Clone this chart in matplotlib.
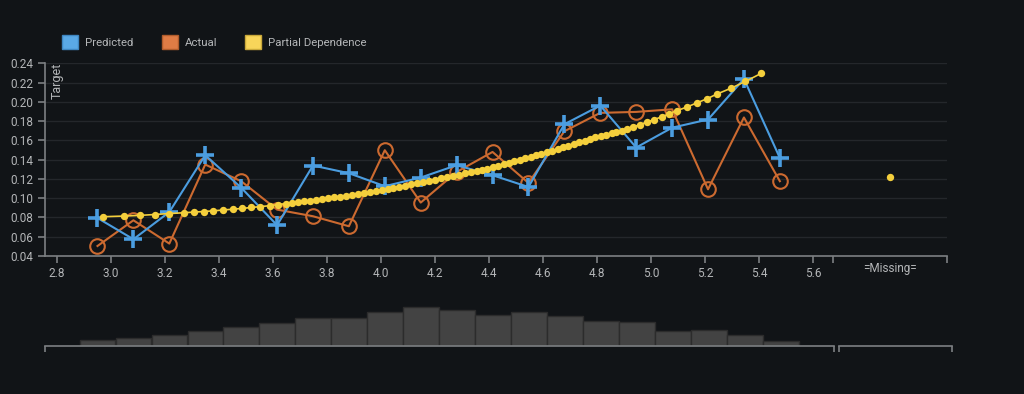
import matplotlib.pyplot as plt
from matplotlib.patches import Patch

plt.rcParams["font.family"] = ["Roboto", "DejaVu Sans"]

# bin centres shared by predicted / actual / histogram
bin_x = [2.950, 3.083, 3.216, 3.349, 3.482, 3.615, 3.748, 3.881, 4.014, 4.147,
         4.280, 4.413, 4.546, 4.679, 4.812, 4.945, 5.078, 5.211, 5.344, 5.477]
predicted = [0.0795, 0.0574, 0.0857, 0.1447, 0.1110, 0.0720, 0.1340, 0.1260, 0.1125, 0.1215,
             0.1343, 0.1239, 0.1117, 0.1769, 0.1963, 0.1527, 0.1733, 0.1818, 0.2240, 0.1419]
actual = [0.0504, 0.0771, 0.0529, 0.1350, 0.1177, 0.0882, 0.0813, 0.0709, 0.1499, 0.0955,
          0.1273, 0.1481, 0.1159, 0.1696, 0.1887, 0.1897, 0.1924, 0.1093, 0.1839, 0.1177]
counts = [12, 16, 23, 31, 39, 46, 57, 57, 69, 78, 73, 62, 69, 61, 51, 48, 30, 32, 23, 10]

pd_x = [2.969, 3.049, 3.106, 3.163, 3.215, 3.269, 3.306, 3.343, 3.379, 3.416,
        3.451, 3.485, 3.520, 3.553, 3.589, 3.620, 3.647, 3.672, 3.694, 3.716,
        3.738, 3.760, 3.782, 3.804, 3.826, 3.848, 3.870, 3.892, 3.914, 3.936,
        3.958, 3.980, 4.002, 4.024, 4.046, 4.068, 4.090, 4.112, 4.134, 4.156,
        4.178, 4.200, 4.222, 4.244, 4.266, 4.288, 4.310, 4.332, 4.354, 4.374,
        4.394, 4.414, 4.434, 4.454, 4.474, 4.494, 4.514, 4.534, 4.554, 4.574,
        4.594, 4.614, 4.634, 4.654, 4.674, 4.694, 4.714, 4.734, 4.754, 4.774,
        4.794, 4.814, 4.834, 4.854, 4.872, 4.891, 4.910, 4.934, 4.959, 4.984,
        5.011, 5.040, 5.068, 5.097, 5.134, 5.169, 5.206, 5.243, 5.296, 5.349,
        5.407]
pd_y = [0.0808, 0.0815, 0.0822, 0.0831, 0.0841, 0.0849, 0.0856, 0.0862, 0.0869, 0.0878,
        0.0886, 0.0894, 0.0904, 0.0913, 0.0923, 0.0934, 0.0945, 0.0953, 0.0961, 0.0968,
        0.0976, 0.0983, 0.0991, 0.0999, 0.1008, 0.1017, 0.1026, 0.1035, 0.1044, 0.1053,
        0.1062, 0.1071, 0.1081, 0.1093, 0.1106, 0.1118, 0.1131, 0.1143, 0.1156, 0.1169,
        0.1181, 0.1194, 0.1207, 0.1220, 0.1232, 0.1245, 0.1258, 0.1270, 0.1283, 0.1295,
        0.1306, 0.1321, 0.1336, 0.1352, 0.1367, 0.1383, 0.1398, 0.1414, 0.1429, 0.1445,
        0.1460, 0.1477, 0.1494, 0.1512, 0.1529, 0.1546, 0.1563, 0.1580, 0.1598, 0.1615,
        0.1632, 0.1648, 0.1662, 0.1676, 0.1689, 0.1699, 0.1717, 0.1741, 0.1766, 0.1790,
        0.1818, 0.1845, 0.1880, 0.1911, 0.1949, 0.1990, 0.2032, 0.2081, 0.2143, 0.2213,
        0.2296]
missing_x = 5.885
missing_pd = 0.1218

x_ticks = [2.8, 3.0, 3.2, 3.4, 3.6, 3.8, 4.0, 4.2, 4.4, 4.6, 4.8, 5.0, 5.2, 5.4, 5.6]
y_ticks = [0.04, 0.06, 0.08, 0.10, 0.12, 0.14, 0.16, 0.18, 0.20, 0.22, 0.24]

BG = "#111417"
AXIS = "#7c7f82"
TEXT = "#b4b6b8"
GRID = "#24272b"
BLUE = "#4b9de0"
ORANGE = "#cc6a30"
YELLOW = "#f4cf3c"

x_left, x_split, x_right = 2.7556, 5.674, 6.096

fig = plt.figure(figsize=(10.24, 3.94), dpi=100, facecolor=BG)
ax = fig.add_axes([45 / 1024, 1 - 256 / 394, 902 / 1024, 193 / 394], facecolor=BG)

ax.plot(bin_x, predicted, color=BLUE, lw=1.5, marker="+", ms=13, mew=2.6, zorder=3)
ax.plot(bin_x, actual, color=ORANGE, lw=1.5, marker="o", ms=10.5, mfc="none", mew=1.5, zorder=2)
ax.plot(pd_x, pd_y, color=YELLOW, lw=1.2, marker="o", ms=5.3, mew=0, zorder=4)
ax.plot([missing_x], [missing_pd], color=YELLOW, marker="o", ms=5.3, mew=0, ls="none")

ax.set_xlim(x_left, x_right)
ax.set_ylim(0.04, 0.2405)
ax.set_yticks(y_ticks)
ax.set_yticklabels([f"{v:.2f}" for v in y_ticks])
ax.set_xticks(x_ticks + [x_split, x_right])
ax.set_xticklabels([f"{v:.1f}" for v in x_ticks] + ["", ""])
ax.grid(axis="y", color=GRID, lw=1)
ax.set_axisbelow(True)
for s in ["top", "right"]:
    ax.spines[s].set_visible(False)
for s in ["left", "bottom"]:
    ax.spines[s].set_color(AXIS)
    ax.spines[s].set_linewidth(1.2)
ax.tick_params(colors=AXIS, labelcolor=TEXT, labelsize=8.5, length=5, width=1.2)
ax.tick_params(axis="x", pad=3)
ax.text(missing_x, -0.065, "=Missing=", transform=ax.get_xaxis_transform(),
        ha="center", va="center", color=TEXT, fontsize=8.5)
ax.text(0.006, 1.0, "Target", transform=ax.transAxes, rotation=90,
        ha="left", va="top", color=TEXT, fontsize=9)

# histogram underneath
hx = fig.add_axes([45 / 1024, 1 - 346 / 394, 789 / 1024, 45 / 394], facecolor="none")
hx.bar(bin_x, counts, width=0.1326, color="#434343", edgecolor="#2c2c2c", lw=1)
hx.set_xlim(x_left, x_split)
hx.set_ylim(0, 90)
hm = fig.add_axes([839 / 1024, 1 - 346 / 394, 113 / 1024, 45 / 394], facecolor="none")
hm.set_xlim(0, 1)
hm.set_ylim(0, 90)
for h in (hx, hm):
    for s in ["top", "right", "left"]:
        h.spines[s].set_visible(False)
    h.spines["bottom"].set_color(AXIS)
    h.spines["bottom"].set_linewidth(1.2)
    h.set_yticks([])
    h.set_xticks(h.get_xlim())
    h.set_xticklabels(["", ""])
    h.tick_params(axis="x", colors=AXIS, length=4, width=1.2)

handles = [Patch(facecolor="#5aa9e6", edgecolor="#3f86c0"),
           Patch(facecolor="#e07c45", edgecolor="#b05c2c"),
           Patch(facecolor="#f8d55a", edgecolor="#c9a83a")]
fig.legend(handles, ["Predicted", "Actual", "Partial Dependence"], loc="center left",
           bbox_to_anchor=(62 / 1024, 1 - 42 / 394), ncol=3, frameon=False,
           fontsize=8.2, labelcolor=TEXT, handlelength=1.4, handleheight=1.4,
           handletextpad=0.6, columnspacing=2.5, borderpad=0, borderaxespad=0)

fig.savefig("out.png", dpi=100, facecolor=BG)
